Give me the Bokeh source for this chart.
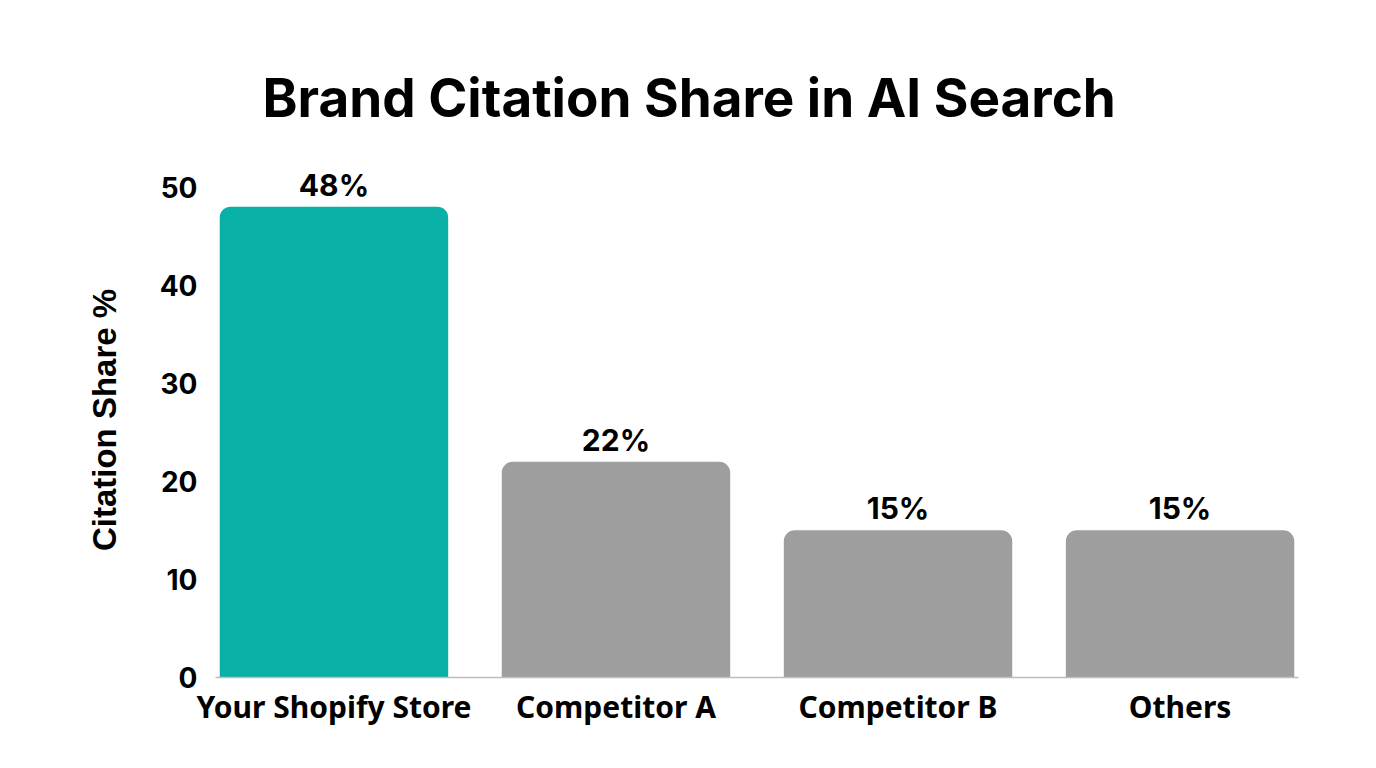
from bokeh.plotting import figure
from bokeh.models import ColumnDataSource, FactorRange, Range1d, FixedTicker
from bokeh.core.properties import value
from bokeh.embed import file_html
from bokeh.resources import INLINE

categories = ["Your Shopify Store", "Competitor A", "Competitor B", "Others"]
shares = [48, 22, 15, 15]
labels = ["48%", "22%", "15%", "15%"]
colors = ["#08B0A5", "#9E9E9E", "#9E9E9E", "#9E9E9E"]
y_ticks = [0, 10, 20, 30, 40, 50]

src = ColumnDataSource(dict(cat=categories, val=shares, lab=labels, col=colors))

p = figure(
    width=1360, height=752,
    x_range=FactorRange(*categories, range_padding=-0.08, range_padding_units="absolute"),
    y_range=Range1d(0, 52.5),
    output_backend="svg", toolbar_location=None,
    title="Brand Citation Share in AI Search",
    min_border_left=215, min_border_right=62, min_border_top=162, min_border_bottom=75,
)
p.title.align = "left"
p.title.text_font = "Inter"
p.title.text_font_size = "53px"
p.title.text_font_style = "bold"
p.title.text_color = "#000000"
p.title.standoff = 65
p.title.offset = 47

p.vbar(x="cat", top="val", width=0.81, source=src, fill_color="col", line_color=None,
       border_radius=(11, 11, 0, 0))
p.text(x="cat", y="val", text="lab", source=src, text_align="center", text_baseline="bottom",
       y_offset=-4, text_font=value("Inter"), text_font_size="30px", text_font_style="bold",
       text_color="#000000")

p.xgrid.visible = False
p.ygrid.visible = False
p.outline_line_color = None

p.yaxis.ticker = FixedTicker(ticks=y_ticks)
p.yaxis.axis_line_color = None
p.yaxis.major_tick_line_color = None
p.yaxis.minor_tick_line_color = None
p.yaxis.major_label_text_font = "Inter"
p.yaxis.major_label_text_font_size = "28px"
p.yaxis.major_label_text_font_style = "bold"
p.yaxis.major_label_text_color = "#000000"
p.yaxis.major_label_standoff = 12
p.yaxis.axis_label = "Citation Share %"
p.yaxis.axis_label_text_font = "Liberation Sans"
p.yaxis.axis_label_text_font_size = "33px"
p.yaxis.axis_label_text_font_style = "bold"
p.yaxis.axis_label_text_color = "#000000"
p.yaxis.axis_label_standoff = 34

p.xaxis.axis_line_color = "#BDBDBD"
p.xaxis.axis_line_width = 1.5
p.xaxis.major_tick_line_color = None
p.xaxis.minor_tick_line_color = None
p.xaxis.major_label_text_font = "Noto Sans"
p.xaxis.major_label_text_font_size = "30px"
p.xaxis.major_label_text_font_style = "bold"
p.xaxis.major_label_text_color = "#000000"
p.xaxis.major_label_standoff = 2

open("out.html", "w").write(file_html(p, INLINE))
